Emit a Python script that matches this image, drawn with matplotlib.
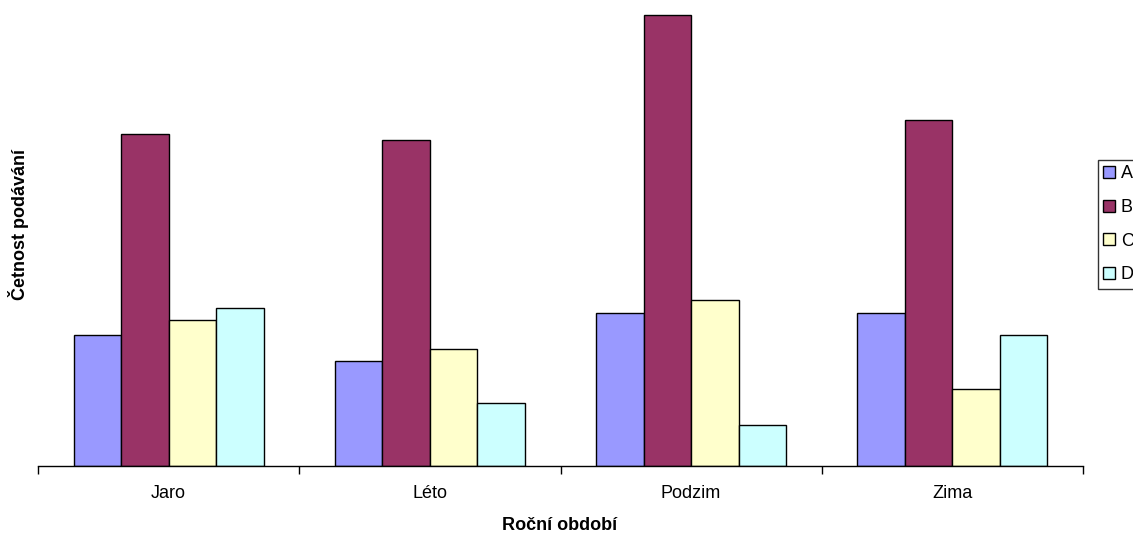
import matplotlib
matplotlib.use("Agg")
import matplotlib.pyplot as plt
from matplotlib.patches import Patch
import numpy as np

plt.rcParams['font.family'] = ['Liberation Sans', 'DejaVu Sans']

seasons = ["Jaro", "Léto", "Podzim", "Zima"]
series_names = ["A", "B", "C", "D"]
values_A = [9.6, 7.7, 11.2, 11.2]
values_B = [24.4, 23.9, 33.1, 25.4]
values_C = [10.7, 8.6, 12.2, 5.6]
values_D = [11.6, 4.6, 3.0, 9.6]
colors = ["#9999FF", "#993366", "#FFFFCC", "#CCFFFF"]

W, H = 1133, 534
fig = plt.figure(figsize=(W / 100, H / 100), dpi=100)
ax_left, ax_right, ax_bottom, ax_top = 38, 1083, 465.5, 10
ax = fig.add_axes([ax_left / W, 1 - ax_bottom / H,
                   (ax_right - ax_left) / W, (ax_bottom - ax_top) / H])

series = [values_A, values_B, values_C, values_D]
n = len(series)
gap = 1.5
bw = 1.0 / (n + gap)
x = np.arange(len(seasons))
for i, (vals, col) in enumerate(zip(series, colors)):
    offs = (i - (n - 1) / 2) * bw
    ax.bar(x + offs, vals, width=bw, color=col, edgecolor="black",
           linewidth=1.0, label=series_names[i], zorder=2)

ax.set_xlim(-0.5, len(seasons) - 0.5)
ax.set_ylim(0, (ax_bottom - ax_top) / 13.6)

for s in ["left", "right", "top"]:
    ax.spines[s].set_visible(False)
ax.spines["bottom"].set_linewidth(1.0)
ax.set_yticks([])
ax.set_xticks(x)
ax.set_xticklabels(seasons, fontsize=13)
ax.tick_params(axis="x", which="major", length=0, pad=14)
ax.set_xticks(np.arange(-0.5, len(seasons)), minor=True)
ax.tick_params(axis="x", which="minor", length=6, width=1.0, direction="out")

fig.text(560 / W, 1 - 526 / H, "Roční období", ha="center", va="center",
         fontsize=13, fontweight="bold")
fig.text(19 / W, 1 - 225 / H, "Četnost podávání", ha="center", va="center",
         rotation=90, fontsize=13, fontweight="bold")

# legend box runs past the right edge of the figure
handles = [Patch(facecolor=c, edgecolor="black", linewidth=1.0) for c in colors]
leg = fig.legend(handles, series_names, loc="upper left",
                 bbox_to_anchor=(1098 / W, 1 - 160 / H), fontsize=13,
                 frameon=True, fancybox=False, handlelength=0.66,
                 handleheight=0.66, handletextpad=0.3, labelspacing=0.92,
                 borderpad=0.3, borderaxespad=0)
leg.get_frame().set_edgecolor("black")
leg.get_frame().set_linewidth(1.0)

fig.savefig("out.png", dpi=100)
